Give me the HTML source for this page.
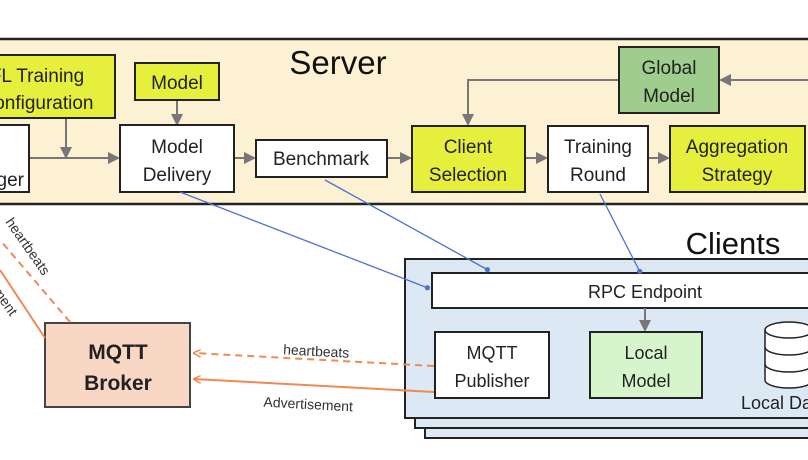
<!DOCTYPE html>
<html><head><meta charset="utf-8"><style>
body{margin:0;width:808px;height:455px;overflow:hidden;background:#fff;font-family:"Liberation Sans",sans-serif;}
</style></head><body>
<svg width="808" height="455" viewBox="0 0 808 455" xmlns="http://www.w3.org/2000/svg" font-family="Liberation Sans, sans-serif">
<defs>
<marker id="g" markerWidth="6" markerHeight="6" refX="5" refY="3" orient="auto"><path d="M0,0L6,3L0,6z" fill="#777"/></marker>
<marker id="b" markerWidth="5" markerHeight="5" refX="3" refY="2.5" orient="auto"><circle cx="2.5" cy="2.5" r="2" fill="#4a72d0"/></marker>
<marker id="o" markerWidth="8" markerHeight="8" refX="7" refY="4" orient="auto" markerUnits="userSpaceOnUse"><path d="M0,0L8,4L0,8" fill="none" stroke="#ef8a50" stroke-width="1.5"/></marker>
</defs>
<rect x="-5" y="39" width="820" height="165" fill="#fdf1d3" stroke="#222" stroke-width="2.5"/>
<text x="338" y="74" font-size="33" text-anchor="middle" fill="#111">Server</text>
<g stroke="#777" stroke-width="2" fill="none">
<line x1="30" y1="158" x2="118" y2="158" marker-end="url(#g)"/>
<line x1="66" y1="118" x2="66" y2="157" marker-end="url(#g)"/>
<line x1="177" y1="100" x2="177" y2="124" marker-end="url(#g)"/>
<line x1="235" y1="158" x2="254" y2="158" marker-end="url(#g)"/>
<line x1="388" y1="158" x2="410" y2="158" marker-end="url(#g)"/>
<line x1="526" y1="158" x2="546" y2="158" marker-end="url(#g)"/>
<line x1="649" y1="158" x2="668" y2="158" marker-end="url(#g)"/>
<line x1="808" y1="80" x2="721" y2="80" marker-end="url(#g)"/>
<polyline points="619,80 468,80 468,124" marker-end="url(#g)"/>
</g>
<g stroke="#222" stroke-width="2">
<rect x="-40" y="55" width="155" height="63" fill="#e6f03c"/>
<rect x="135" y="63" width="84" height="37" fill="#e6f03c"/>
<rect x="-40" y="125" width="69" height="67" fill="#fff"/>
<rect x="120" y="125" width="114" height="67" fill="#fff"/>
<rect x="256" y="140" width="131" height="37" fill="#fff"/>
<rect x="412" y="126" width="113" height="66" fill="#e6f03c"/>
<rect x="548" y="126" width="100" height="66" fill="#fff"/>
<rect x="670" y="126" width="135" height="66" fill="#e6f03c"/>
<rect x="619" y="47" width="100" height="66" fill="#9fcd8e"/>
</g>
<g font-size="19" text-anchor="middle" fill="#222">
<text x="37" y="82">FL Training</text><text x="37" y="109">Configuration</text>
<text x="177" y="89">Model</text>
<text x="24" y="186" text-anchor="end">Manager</text>
<text x="177" y="153">Model</text><text x="177" y="181">Delivery</text>
<text x="321" y="165">Benchmark</text>
<text x="468" y="153">Client</text><text x="468" y="181">Selection</text>
<text x="598" y="153">Training</text><text x="598" y="181">Round</text>
<text x="737" y="153">Aggregation</text><text x="737" y="181">Strategy</text>
<text x="669" y="74">Global</text><text x="669" y="102">Model</text>
</g>
<text x="733" y="254" font-size="31" text-anchor="middle" fill="#111">Clients</text>
<rect x="425" y="279" width="400" height="159" fill="#dce8f4" stroke="#222" stroke-width="2"/>
<rect x="415" y="269" width="400" height="159" fill="#dce8f4" stroke="#222" stroke-width="2"/>
<rect x="405" y="259" width="410" height="159" fill="#dce8f4" stroke="#222" stroke-width="2"/>
<rect x="432" y="273" width="390" height="35" fill="#fff" stroke="#222" stroke-width="2"/>
<text x="645" y="298" font-size="18" text-anchor="middle" fill="#222">RPC Endpoint</text>
<line x1="645" y1="308" x2="645" y2="330" stroke="#777" stroke-width="2" marker-end="url(#g)"/>
<rect x="435" y="332" width="114" height="66" fill="#fff" stroke="#222" stroke-width="2"/>
<rect x="590" y="332" width="112" height="66" fill="#d6f5cc" stroke="#222" stroke-width="2"/>
<g font-size="18" text-anchor="middle" fill="#222">
<text x="492" y="359">MQTT</text><text x="492" y="387">Publisher</text>
<text x="646" y="359">Local</text><text x="646" y="387">Model</text>
</g>
<g stroke="#222" stroke-width="1.5" fill="#fff">
<path d="M765,330 v50 a24,8 0 0 0 48,0 v-50"/>
<ellipse cx="789" cy="330" rx="24" ry="8"/>
<path d="M765,347 a24,8 0 0 0 48,0 M765,364 a24,8 0 0 0 48,0" fill="none"/>
</g>
<text x="741" y="409" font-size="18" fill="#222">Local Data</text>
<rect x="45" y="323" width="145" height="84" fill="#f8d8c5" stroke="#444" stroke-width="2"/>
<text x="118" y="359" font-size="21" font-weight="bold" text-anchor="middle" fill="#222">MQTT</text>
<text x="118" y="390" font-size="21" font-weight="bold" text-anchor="middle" fill="#222">Broker</text>
<g stroke="#ef8a50" stroke-width="2" fill="none">
<line x1="434" y1="366" x2="194" y2="353" stroke-dasharray="7,5" marker-end="url(#o)"/>
<line x1="434" y1="392" x2="194" y2="379" marker-end="url(#o)"/>
<line x1="70" y1="322" x2="0" y2="240" stroke-dasharray="7,5"/>
<line x1="45" y1="338" x2="0" y2="270"/>
</g>
<text x="316" y="356" font-size="14" text-anchor="middle" fill="#333" transform="rotate(3 316 356)">heartbeats</text>
<text x="308" y="409" font-size="14" text-anchor="middle" fill="#333" transform="rotate(3 308 409)">Advertisement</text>
<text x="5" y="222" font-size="14" fill="#333" transform="rotate(55 5 222)">heartbeats</text>
<text x="-12" y="285" font-size="14" fill="#333" transform="rotate(55 -12 285)">ement</text>
<g stroke="#4a72d0" stroke-width="1.3" fill="none">
<line x1="180" y1="192" x2="428" y2="288" marker-end="url(#b)"/>
<line x1="325" y1="180" x2="488" y2="270" marker-end="url(#b)"/>
<line x1="600" y1="194" x2="640" y2="272" marker-end="url(#b)"/>
</g>
</svg>
</body></html>
